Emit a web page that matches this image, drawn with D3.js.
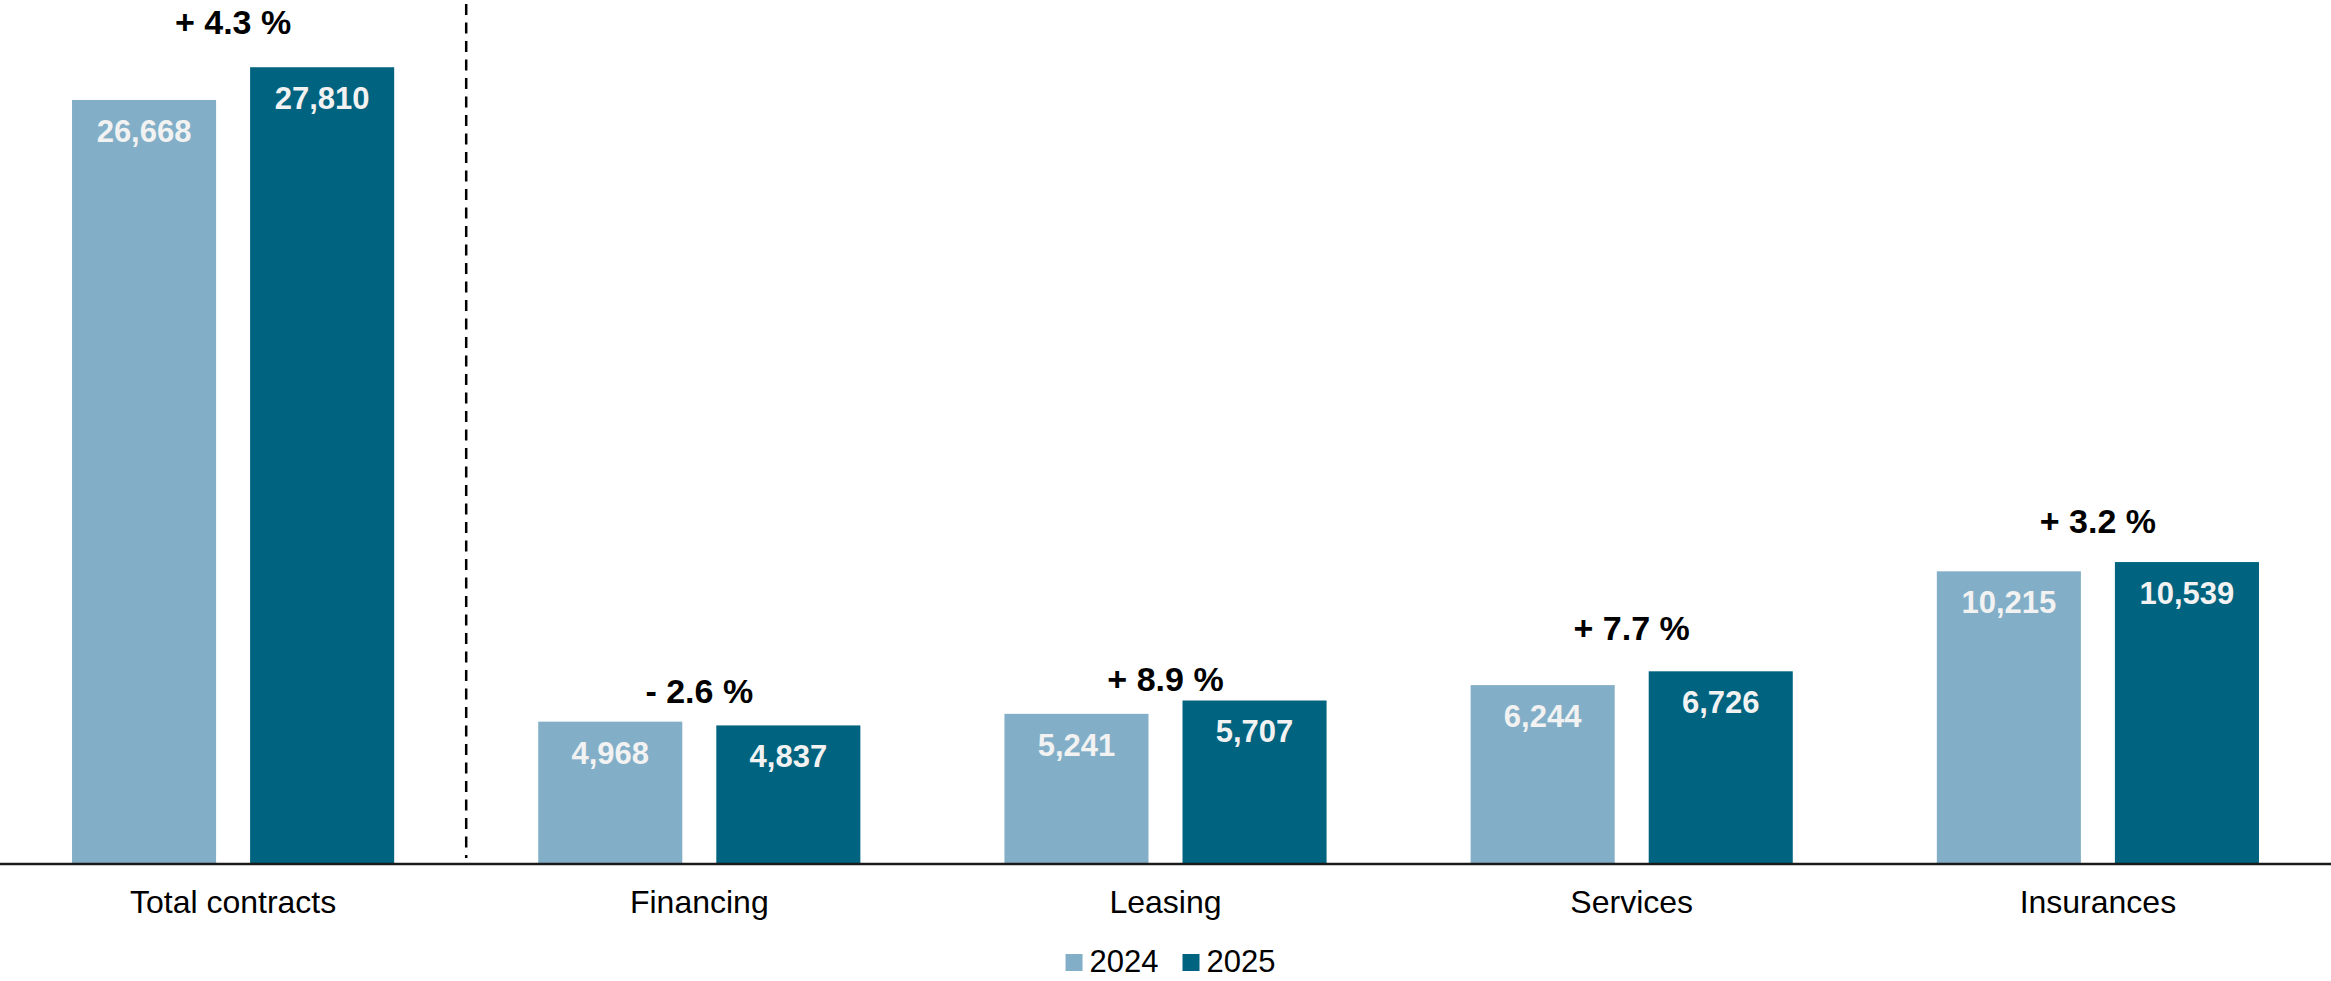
<!DOCTYPE html>
<html>
<head>
<meta charset="utf-8">
<script src="https://cdn.jsdelivr.net/npm/d3@7"></script>
<style>
  html, body { margin: 0; padding: 0; background: #ffffff; }
  svg { display: block; font-family: "Liberation Sans", Arial, sans-serif; }
</style>
</head>
<body>
<svg id="chart"></svg>
<script>
// Contract volumes by product line, 2024 vs 2025
const categories = ["Total contracts", "Financing", "Leasing", "Services", "Insurances"];
const years = ["2024", "2025"];
const values2024 = [26668, 4968, 5241, 6244, 10215];
const values2025 = [27810, 4837, 5707, 6726, 10539];

const W = 2331, H = 981;
const baseY = 864;
const colors = { "2024": "#82afc7", "2025": "#00637f" };
// vertical lift of each growth label above the taller bar of its group
const growthLift = [33, 19, 9, 31, 29];

const svg = d3.select("#chart").attr("width", W).attr("height", H);

const x0 = d3.scaleBand()
  .domain(categories)
  .range([0, W])
  .paddingInner(0.309)
  .paddingOuter(0.1545);

const x1 = d3.scaleBand()
  .domain(years)
  .range([0, x0.bandwidth()])
  .paddingInner(0.191);

const y = d3.scaleLinear()
  .domain([0, 30000])
  .range([baseY, baseY - 30000 * 0.02865]);

const rows = categories.map((c, i) => ({
  category: c,
  i,
  bars: [
    { year: "2024", value: values2024[i] },
    { year: "2025", value: values2025[i] }
  ]
}));

const groups = svg.selectAll("g.group")
  .data(rows)
  .join("g")
  .attr("class", "group")
  .attr("transform", d => `translate(${x0(d.category)},0)`);

groups.selectAll("rect")
  .data(d => d.bars)
  .join("rect")
  .attr("x", d => x1(d.year))
  .attr("y", d => y(d.value))
  .attr("width", x1.bandwidth())
  .attr("height", d => y(0) - y(d.value))
  .attr("fill", d => colors[d.year]);

const fmt = d3.format(",");
groups.selectAll("text.value")
  .data(d => d.bars)
  .join("text")
  .attr("class", "value")
  .attr("x", d => x1(d.year) + x1.bandwidth() / 2)
  .attr("y", d => y(d.value) + 42)
  .attr("text-anchor", "middle")
  .attr("font-size", 31)
  .attr("font-weight", "bold")
  .attr("fill", "#f2f2f2")
  .text(d => fmt(d.value));

// year-over-year change above each group
const pct = d3.format(".1f");
groups.append("text")
  .attr("class", "growth")
  .attr("x", x0.bandwidth() / 2)
  .attr("y", d => y(Math.max(values2024[d.i], values2025[d.i])) - growthLift[d.i])
  .attr("text-anchor", "middle")
  .attr("font-size", 34)
  .attr("font-weight", "bold")
  .attr("fill", "#000")
  .text(d => {
    const g = (values2025[d.i] / values2024[d.i] - 1) * 100;
    return (g >= 0 ? "+ " : "- ") + pct(Math.abs(g)) + " %";
  });

// category axis
const xAxis = d3.axisBottom(x0).tickSize(0).tickPadding(0);
const axisG = svg.append("g")
  .attr("transform", `translate(0,${baseY})`)
  .call(xAxis);
axisG.select(".domain").remove();
axisG.selectAll("text")
  .attr("font-size", 32)
  .attr("font-family", "Liberation Sans, Arial, sans-serif")
  .attr("fill", "#000")
  .attr("dy", null)
  .attr("y", 49);

svg.append("line")
  .attr("x1", 0).attr("x2", W)
  .attr("y1", baseY).attr("y2", baseY)
  .attr("stroke", "#1a1a1a")
  .attr("stroke-width", 2.5);

// divider between the total and the product lines
const divX = (x0("Total contracts") + x0.bandwidth() + x0("Financing")) / 2;
svg.append("line")
  .attr("x1", divX).attr("x2", divX)
  .attr("y1", 4).attr("y2", baseY - 6)
  .attr("stroke", "#000")
  .attr("stroke-width", 2.5)
  .attr("stroke-dasharray", "11,7.5");

// legend
const legend = svg.append("g").attr("class", "legend");
let lx = 0;
years.forEach(yr => {
  const item = legend.append("g").attr("transform", `translate(${lx},0)`);
  item.append("rect")
    .attr("x", 0).attr("y", -17.5)
    .attr("width", 17).attr("height", 17)
    .attr("fill", colors[yr]);
  const t = item.append("text")
    .attr("x", 24).attr("y", 0)
    .attr("font-size", 31)
    .attr("fill", "#000")
    .text(yr);
  lx += 24 + t.node().getComputedTextLength() + 24;
});
const legendW = lx - 24;
legend.attr("transform", `translate(${W / 2 + 5 - legendW / 2},${971.5})`);
</script>
</body>
</html>
